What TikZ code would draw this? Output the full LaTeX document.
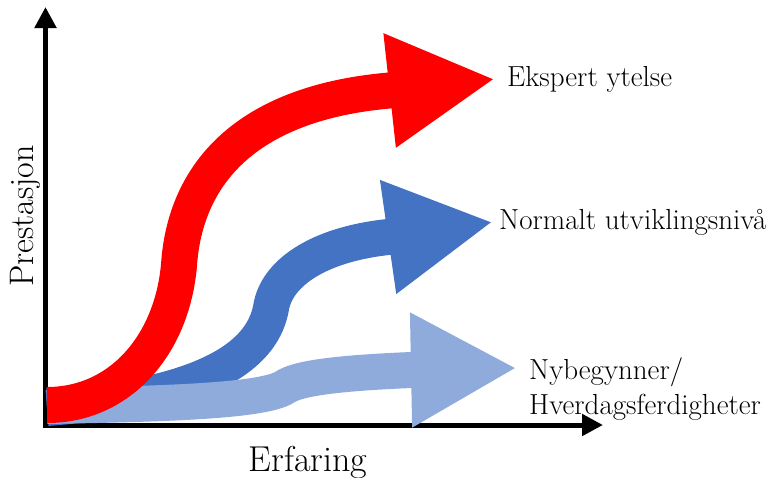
\documentclass[tikz,border=0pt]{standalone}
\usepackage{tikz}
\usetikzlibrary{arrows.meta,calc,positioning}
\definecolor{red1}{rgb}{1,0,0}
\definecolor{royalblue}{rgb}{0.27,0.45,0.77}
\definecolor{skyblue}{rgb}{0.56,0.67,0.86}

\begin{document}
\begin{tikzpicture}[x=1pt,y=-1pt,
  axis/.style={line width=5pt,-{Triangle[length=21pt,width=21pt]}},
  band/.style={line width=36pt,-{Triangle[length=106pt,width=107pt]}},
  txt/.style={font=\fontsize{29}{34.5}\selectfont,inner sep=0pt,align=left}]
  \useasboundingbox (0,0) rectangle (775,477);
  \coordinate (O) at (45.5,425);
  \coordinate (X) at (603,425);
  \coordinate (Y) at (45.5,7);

  % red: expert
  \coordinate (R0) at (47,405);
  \coordinate (R1) at (179,265);
  \coordinate (R2) at (389.5,90.5);
  \coordinate (R3) at (495,79);
  % blue: normal
  \coordinate (B0) at (47,408);
  \coordinate (B1) at (271,308);
  \coordinate (B2) at (388,237);
  \coordinate (B3) at (493,222);
  % light blue: novice
  \coordinate (L0) at (47,406);
  \coordinate (L1) at (285,387);
  \coordinate (L2) at (411,370);
  \coordinate (L3) at (517,368);

  \draw [axis, shorten <=-2.5pt] (O)--(X);
  \draw [axis, shorten <=-2.5pt] (O)--(Y);

  \draw [band, royalblue] (B0) .. controls (150,400) and (258,378) .. (B1)
    .. controls (276,275) and (315,245) .. (B2) -- (B3);
  \draw [band, skyblue] (L0) .. controls (150,404) and (262,402) .. (L1)
    .. controls (298,378) and (340,373) .. (L2) -- (L3);
  \draw [band, red1] (R0) .. controls (120,405) and (172,345) .. (R1)
    .. controls (185,175) and (245,103) .. (R2) -- (R3);

  \node [txt, right = 12pt of R3] (ekspert) {Ekspert ytelse};
  \node [txt, right = 6pt of B3] (normalt) {Normalt utviklingsnivå};
  \node [txt, right = 12pt of L3, yshift=-21pt] (nybeg) {Nybegynner/\\Hverdagsferdigheter};
  \node [font=\fontsize{36}{42}\selectfont, inner sep=0pt, anchor=base] (erfaring) at (308,471) {Erfaring};
  \node [font=\fontsize{34}{40}\selectfont, inner sep=0pt, anchor=base, rotate=90] (prestasjon) at (33,216) {Prestasjon};
\end{tikzpicture}
\end{document}
